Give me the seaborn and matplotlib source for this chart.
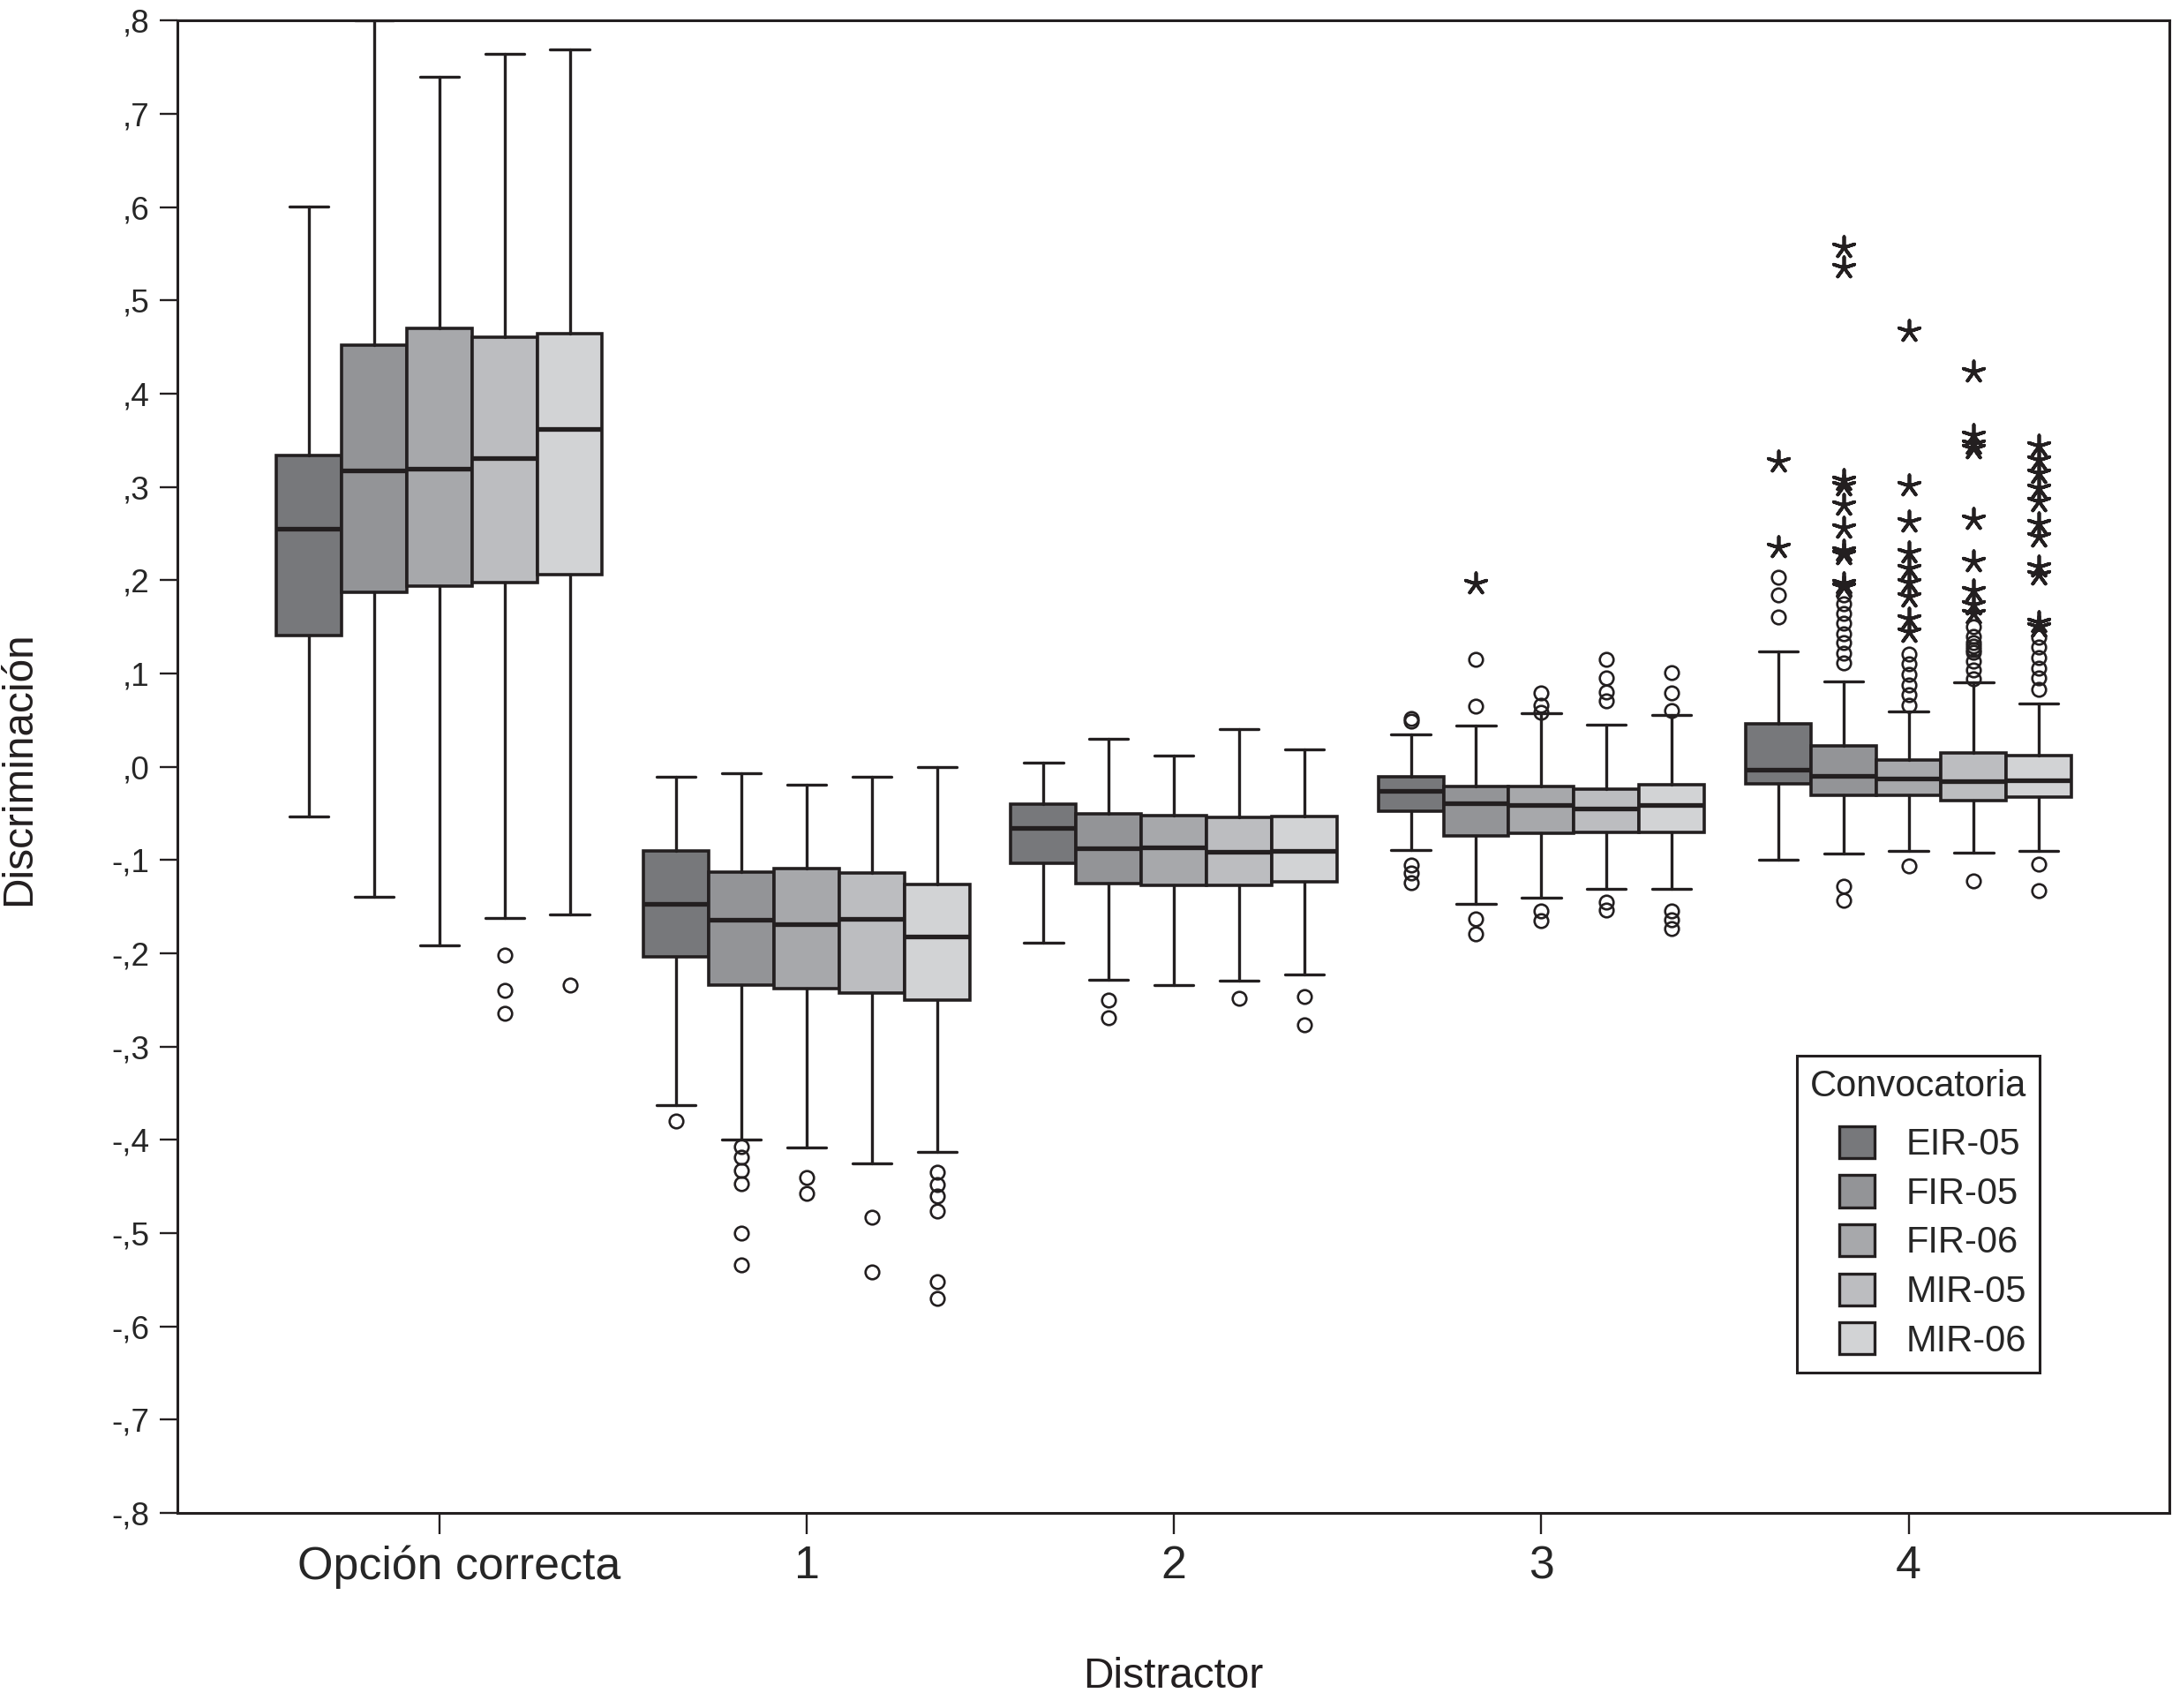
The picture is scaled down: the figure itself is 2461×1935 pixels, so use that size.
import matplotlib
matplotlib.use('Agg')
import matplotlib.pyplot as plt
import matplotlib.transforms as mtransforms
from matplotlib.patches import Patch
from matplotlib.ticker import FuncFormatter
import seaborn as sns
import pandas as pd

# categories and groups
categories = ['Opción correcta', '1', '2', '3', '4']
convocatorias = ['EIR-05', 'FIR-05', 'FIR-06', 'MIR-05', 'MIR-06']
colors = ['#77787b', '#939497', '#a7a8ab', '#bcbdc0', '#d2d3d5']

# box statistics, one row per category, one column per convocatoria
whis_low = [[-0.053, -0.139, -0.191, -0.162, -0.158],
            [-0.363, -0.400, -0.408, -0.425, -0.413],
            [-0.189, -0.228, -0.234, -0.229, -0.223],
            [-0.089, -0.147, -0.140, -0.131, -0.131],
            [-0.100, -0.093, -0.090, -0.092, -0.090]]
q1 = [[0.141, 0.187, 0.194, 0.198, 0.206],
      [-0.204, -0.234, -0.238, -0.243, -0.250],
      [-0.103, -0.125, -0.127, -0.127, -0.123],
      [-0.048, -0.074, -0.071, -0.070, -0.070],
      [-0.018, -0.031, -0.031, -0.036, -0.032]]
medians = [[0.255, 0.318, 0.320, 0.331, 0.362],
           [-0.147, -0.164, -0.169, -0.163, -0.182],
           [-0.066, -0.087, -0.086, -0.091, -0.090],
           [-0.026, -0.039, -0.041, -0.045, -0.041],
           [-0.003, -0.010, -0.013, -0.015, -0.014]]
q3 = [[0.334, 0.452, 0.470, 0.461, 0.464],
      [-0.090, -0.113, -0.109, -0.114, -0.126],
      [-0.040, -0.050, -0.052, -0.054, -0.053],
      [-0.011, -0.021, -0.021, -0.024, -0.019],
      [0.046, 0.022, 0.007, 0.015, 0.012]]
whis_high = [[0.601, 0.800, 0.740, 0.764, 0.769],
             [-0.011, -0.007, -0.019, -0.011, 0.000],
             [0.004, 0.030, 0.012, 0.040, 0.019],
             [0.035, 0.044, 0.057, 0.045, 0.056],
             [0.124, 0.092, 0.059, 0.091, 0.068]]

# outliers (circles)
outliers = [
    [[], [], [], [-0.202, -0.240, -0.264], [-0.234]],
    [[-0.380], [-0.407, -0.419, -0.433, -0.447, -0.500, -0.534], [-0.440, -0.457],
     [-0.483, -0.542], [-0.435, -0.448, -0.460, -0.476, -0.552, -0.570]],
    [[], [-0.250, -0.269], [], [-0.248], [-0.246, -0.277]],
    [[0.052, 0.049, -0.105, -0.114, -0.124], [0.115, 0.065, -0.163, -0.179],
     [0.079, 0.066, 0.058, -0.155, -0.165], [0.115, 0.095, 0.080, 0.071, -0.145, -0.154],
     [0.101, 0.079, 0.060, -0.155, -0.164, -0.173]],
    [[0.203, 0.184, 0.161],
     [0.111, 0.122, 0.133, 0.143, 0.154, 0.164, 0.175, 0.184, -0.128, -0.143],
     [0.066, 0.077, 0.088, 0.099, 0.110, 0.121, -0.106],
     [0.094, 0.104, 0.113, 0.123, 0.126, 0.129, 0.133, 0.140, 0.150, -0.122],
     [0.083, 0.095, 0.106, 0.117, 0.128, 0.139, -0.104, -0.133]],
]

# extreme values (asterisks)
extremes = [
    [[], [], [], [], []],
    [[], [], [], [], []],
    [[], [], [], [], []],
    [[], [0.197], [], [], []],
    [[0.327, 0.235],
     [0.557, 0.535, 0.307, 0.302, 0.281, 0.256, 0.232, 0.228, 0.197, 0.193],
     [0.467, 0.302, 0.263, 0.230, 0.213, 0.198, 0.182, 0.159, 0.145],
     [0.424, 0.356, 0.346, 0.341, 0.266, 0.220, 0.189, 0.174, 0.164],
     [0.344, 0.329, 0.315, 0.299, 0.285, 0.261, 0.247, 0.215, 0.206, 0.155, 0.150]],
]

edge = '#231f20'
box_w = 0.1775

sns.set_theme(style='white')
plt.rcParams['font.family'] = ['Liberation Sans', 'DejaVu Sans']

fig = plt.figure(figsize=(12.305, 9.675), dpi=200)
ax = fig.add_axes([0.0817, 0.1142, 0.9171, 0.8737])

line_kw = dict(color=edge, linewidth=1.2)
for i in range(len(categories)):
    for j in range(len(convocatorias)):
        pos = i + (j - 2) * box_w
        stats = [dict(whislo=whis_low[i][j], q1=q1[i][j], med=medians[i][j],
                      q3=q3[i][j], whishi=whis_high[i][j], fliers=outliers[i][j])]
        ax.bxp(stats, positions=[pos], widths=box_w, capwidths=box_w * 0.6,
               patch_artist=True, manage_ticks=False,
               boxprops=dict(facecolor=colors[j], edgecolor=edge, linewidth=1.3),
               medianprops=dict(color=edge, linewidth=1.9),
               whiskerprops=line_kw, capprops=line_kw,
               flierprops=dict(marker='o', markerfacecolor='none', markeredgecolor=edge,
                               markersize=5.6, markeredgewidth=0.95, linestyle='none'))

# asterisks for extremes
rows = []
for i in range(len(categories)):
    for j, conv in enumerate(convocatorias):
        for v in extremes[i][j]:
            rows.append({'pos': i + (j - 2) * box_w, 'value': v, 'conv': conv})
ext_df = pd.DataFrame(rows)
sns.scatterplot(data=ext_df, x='pos', y='value', marker=(5, 2, 0), s=78,
                color=edge, edgecolor=edge, linewidth=1.35, legend=False, ax=ax, zorder=5)

ax.set_xlim(-0.713, 4.71)
ax.set_ylim(-0.8, 0.8)
ax.set_xticks(range(len(categories)))
ax.set_xticklabels(categories)
ax.set_yticks([v / 10 for v in range(-8, 9)])
ax.yaxis.set_major_formatter(FuncFormatter(
    lambda v, p: ('-' if v < -1e-9 else '') + ',' + str(int(round(abs(v) * 10)))))

ax.tick_params(axis='x', direction='out', length=8.5, width=0.85, color=edge,
               labelsize=18.7, pad=4.5, bottom=True)
ax.tick_params(axis='y', direction='out', length=7.3, width=0.85, color=edge,
               labelsize=13.3, pad=4, left=True)
for s in ax.spines.values():
    s.set_color(edge)
    s.set_linewidth(1.1)

# first category label sits a little right of its tick in the original
first = ax.get_xticklabels()[0]
first.set_transform(first.get_transform() +
                    mtransforms.ScaledTranslation(22 / 200, 0, fig.dpi_scale_trans))

ax.set_xlabel('Distractor', fontsize=17.2, color=edge)
ax.set_ylabel('Discriminación', fontsize=17.2, color=edge)
ax.xaxis.set_label_coords(0.5, -0.0965)
ax.yaxis.set_label_coords(-0.0696, 0.499)

handles = [Patch(facecolor=c, edgecolor=edge, linewidth=1.2) for c in colors]
leg = ax.legend(handles, convocatorias, title='Convocatoria', loc='upper left',
                bbox_to_anchor=(0.813, 0.3065), borderaxespad=0, fontsize=15,
                title_fontsize=15, frameon=True, fancybox=False, framealpha=1,
                handlelength=0.96, handleheight=0.96, handletextpad=0.85,
                labelspacing=0.34, borderpad=0.36, alignment='right')
leg._legend_box.sep = 9
leg.get_frame().set_edgecolor(edge)
leg.get_frame().set_linewidth(1.1)

fig.savefig('out.png', dpi=200)
